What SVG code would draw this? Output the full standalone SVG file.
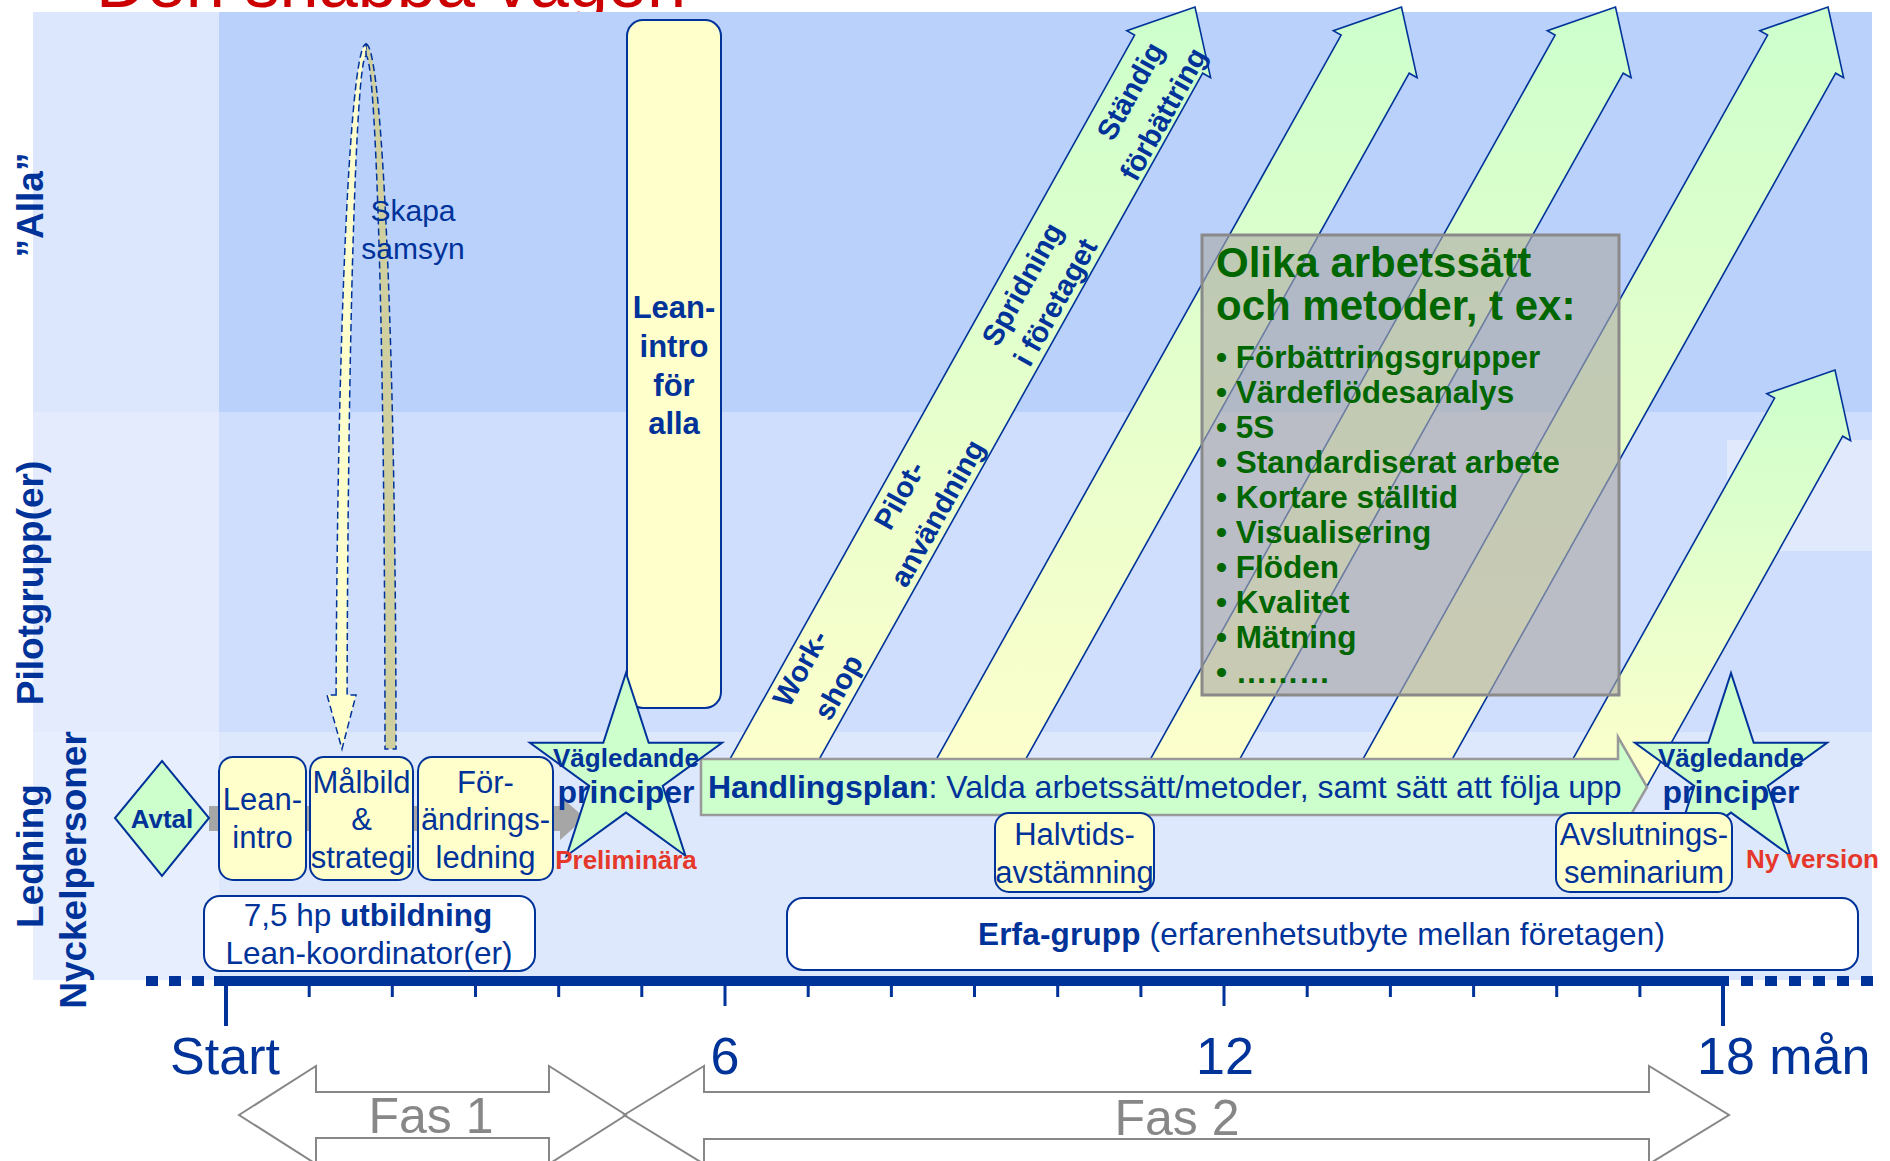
<svg xmlns="http://www.w3.org/2000/svg" width="1890" height="1161" viewBox="0 0 1890 1161">
<defs>
<linearGradient id="ag" x1="0" y1="1" x2="0" y2="0"><stop offset="0" stop-color="#ffffcc"/><stop offset="1" stop-color="#ccffcc"/></linearGradient>
</defs>
<style>
text{font-family:"Liberation Sans",Arial,Helvetica,sans-serif}
.b{font-weight:bold}
.bl{fill:#003399}
.m{text-anchor:middle}
.ybox{fill:#ffffcc;stroke:#003399;stroke-width:2}
.wbox{fill:#ffffff;stroke:#003399;stroke-width:2}
.arr{fill:url(#ag);stroke:#003399;stroke-width:1.6}
.star{fill:#ccffcc;stroke:#003399;stroke-width:2}
.gr{fill:#006600;font-weight:bold}
.red{fill:#e5382b;font-weight:bold;font-size:26px}
.tick{stroke:#003399;stroke-width:3}
.fas{fill:none;stroke:#878787;stroke-width:2}
.fast{fill:#878787;font-size:50px;text-anchor:middle}
.ax{fill:#003399;font-size:52px}
</style>
<rect width="1890" height="1161" fill="#ffffff"/>
<text x="96" y="7" font-size="70" fill="#cc0000" textLength="590" lengthAdjust="spacingAndGlyphs">Den snabba vägen</text>
<g id="background">
<rect x="33" y="12" width="1839" height="400" fill="#bad1fc"/>
<rect x="33" y="412" width="1839" height="320" fill="#cfdefc"/>
<rect x="33" y="732" width="1839" height="248" fill="#dee8fd"/>
<rect x="33" y="12" width="186" height="400" fill="#dce7fd"/>
<rect x="33" y="412" width="186" height="320" fill="#e3ebfd"/>
<rect x="33" y="732" width="186" height="248" fill="#e7eefd"/>
<rect x="1727" y="440" width="145" height="111" fill="#e1eafd"/>
</g>
<g id="row-labels" class="bl b m" font-size="37">
<text transform="translate(43,205) rotate(-90)">”Alla”</text>
<text transform="translate(43,583) rotate(-90)">Pilotgrupp(er)</text>
<text transform="translate(43,856) rotate(-90)">Ledning</text>
<text transform="translate(86,870) rotate(-90)">Nyckelpersoner</text>
</g>
<g id="lean-intro-alla">
<rect class="ybox" x="627" y="20" width="94" height="688" rx="16"/>
<text class="bl b m" font-size="31"><tspan x="674" y="318">Lean-</tspan><tspan x="674" y="357">intro</tspan><tspan x="674" y="396">för</tspan><tspan x="674" y="434">alla</tspan></text>
</g>
<g id="skapa-samsyn">
<path d="M366,44 A30,706 0 0 1 396,749 L385,749 A19,694 0 0 0 366,56 Z" fill="#d0cfa0" stroke="#003399" stroke-width="1.5" stroke-dasharray="7 4"/>
<path d="M336.1,695 A30,706 0 0 1 366,44 L366,56 A19,694 0 0 0 347.1,695 L356,695 L342,749 L327,695 Z" fill="#ffffcc" stroke="#003399" stroke-width="1.5" stroke-dasharray="7 4"/>
<text class="bl m" font-size="30"><tspan x="413" y="221">Skapa</tspan><tspan x="413" y="259">samsyn</tspan></text>
</g>
<g id="improvement-arrows">
<polygon class="arr" points="707.1,800 1134.6,35.1 1126.8,30.7 1195,7 1210.6,77.6 1202.7,73.2 796.4,800"/>
<polygon class="arr" points="913.6,800 1341.1,35.1 1333.3,30.7 1401.5,7 1417.1,77.6 1409.2,73.2 1002.9,800"/>
<polygon class="arr" points="1127.6,800 1555.1,35.1 1547.3,30.7 1615.5,7 1631.1,77.6 1623.2,73.2 1216.9,800"/>
<polygon class="arr" points="1340.1,800 1767.6,35.1 1759.8,30.7 1828,7 1843.6,77.6 1835.7,73.2 1429.4,800"/>
<polygon class="arr" points="1550,800 1774.6,398.1 1766.8,393.7 1835,370 1850.6,440.6 1842.7,436.2 1639.3,800"/>
<g class="bl b m" font-size="29">
<text transform="translate(809,673) rotate(-60.8)">Work-</text>
<text transform="translate(847,692) rotate(-60.8)">shop</text>
<text transform="translate(908,500) rotate(-60.8)">Pilot-</text>
<text transform="translate(946,518) rotate(-60.8)">användning</text>
<text transform="translate(1031,289) rotate(-60.8)">Spridning</text>
<text transform="translate(1064,307) rotate(-60.8)">i företaget</text>
<text transform="translate(1139,96) rotate(-60.8)">Ständig</text>
<text transform="translate(1172,119) rotate(-60.8)">förbättring</text>
</g>
</g>
<g id="methods-box">
<rect x="1202" y="235" width="417" height="460" fill="#ada9a5" fill-opacity="0.62" stroke="#8a8a8a" stroke-width="3"/>
<text class="gr" font-size="42"><tspan x="1216" y="277">Olika arbetssätt</tspan><tspan x="1216" y="320">och metoder, t ex:</tspan></text>
<text class="gr" font-size="31.5">
<tspan x="1216" y="368">• Förbättringsgrupper</tspan>
<tspan x="1216" y="403">• Värdeflödesanalys</tspan>
<tspan x="1216" y="438">• 5S</tspan>
<tspan x="1216" y="473">• Standardiserat arbete</tspan>
<tspan x="1216" y="508">• Kortare ställtid</tspan>
<tspan x="1216" y="543">• Visualisering</tspan>
<tspan x="1216" y="578">• Flöden</tspan>
<tspan x="1216" y="613">• Kvalitet</tspan>
<tspan x="1216" y="648">• Mätning</tspan>
<tspan x="1216" y="683">• ………</tspan>
</text>
</g>
<g id="handlingsplan">
<path d="M701,759 L1618,759 L1618,737 L1647,787 L1618,837 L1618,815 L701,815 Z" fill="#ccffcc" stroke="#999999" stroke-width="2.5"/>
<text x="708" y="798" font-size="32" class="bl"><tspan class="b">Handlingsplan</tspan>: Valda arbetssätt/metoder, samt sätt att följa upp</text>
</g>
<g id="connectors">
<path d="M209,806 L560,806 L560,796 L585,818 L560,840 L560,831 L209,831 Z" fill="#a6a6a6"/>
</g>
<g id="avtal">
<polygon class="star" points="162,761 209,818 162,876 115,818"/>
<text x="162" y="828" class="bl b m" font-size="26">Avtal</text>
</g>
<g id="lean-intro">
<rect class="ybox" x="219" y="757" width="87" height="123" rx="14"/>
<text class="bl m" font-size="31"><tspan x="262.5" y="810">Lean-</tspan><tspan x="262.5" y="848">intro</tspan></text>
</g>
<g id="malbild">
<rect class="ybox" x="310" y="757" width="103" height="123" rx="14"/>
<text class="bl m" font-size="31"><tspan x="361.5" y="793">Målbild</tspan><tspan x="361.5" y="830">&amp;</tspan><tspan x="361.5" y="868">strategi</tspan></text>
</g>
<g id="forandringsledning">
<rect class="ybox" x="418" y="757" width="135" height="123" rx="14"/>
<text class="bl m" font-size="31"><tspan x="485.5" y="793">För-</tspan><tspan x="485.5" y="830">ändrings-</tspan><tspan x="485.5" y="868">ledning</tspan></text>
</g>
<g id="principer-preliminara">
<polygon class="star" points="626,673 648.7,742.8 722.1,742.8 662.7,785.9 685.4,855.7 626,812.6 566.6,855.7 589.3,785.9 529.9,742.8 603.3,742.8"/>
<text class="bl b m" font-size="26" x="626" y="767">Vägledande</text>
<text class="bl b m" font-size="32" x="626" y="803">principer</text>
<text class="red m" x="626" y="869">Preliminära</text>
</g>
<g id="principer-ny">
<polygon class="star" points="1731,673 1753.7,742.8 1827.1,742.8 1767.7,785.9 1790.4,855.7 1731,812.6 1671.6,855.7 1694.3,785.9 1634.9,742.8 1708.3,742.8"/>
<text class="bl b m" font-size="26" x="1731" y="767">Vägledande</text>
<text class="bl b m" font-size="32" x="1731" y="803">principer</text>
<text class="red" x="1746" y="868">Ny version</text>
</g>
<g id="halvtid">
<rect class="ybox" x="995" y="813" width="159" height="79" rx="14"/>
<text class="bl m" font-size="31"><tspan x="1074.5" y="845">Halvtids-</tspan><tspan x="1074.5" y="883">avstämning</tspan></text>
</g>
<g id="avslutning">
<rect class="ybox" x="1556" y="813" width="176" height="79" rx="14"/>
<text class="bl m" font-size="31"><tspan x="1644" y="845">Avslutnings-</tspan><tspan x="1644" y="883">seminarium</tspan></text>
</g>
<g id="utbildning">
<rect class="wbox" x="204" y="896" width="331" height="75" rx="16"/>
<text class="bl m" font-size="31.5"><tspan x="368" y="926">7,5 hp <tspan class="b">utbildning</tspan></tspan><tspan x="369" y="964">Lean-koordinator(er)</tspan></text>
</g>
<g id="erfa-grupp">
<rect class="wbox" x="787" y="898" width="1071" height="72" rx="16"/>
<text class="bl" font-size="31.5" x="978" y="945" textLength="687"><tspan class="b">Erfa-grupp</tspan> (erfarenhetsutbyte mellan företagen)</text>
</g>
<g id="axis">
<rect x="214" y="976" width="1515" height="10" fill="#003399"/>
<line x1="146" y1="981" x2="204" y2="981" stroke="#003399" stroke-width="10" stroke-dasharray="12 11"/>
<line x1="1741" y1="981" x2="1878" y2="981" stroke="#003399" stroke-width="10" stroke-dasharray="12 12"/>
<g class="tick">
<line x1="226" y1="986" x2="226" y2="1026" stroke-width="4"/>
<line x1="1723" y1="986" x2="1723" y2="1026" stroke-width="4"/>
<line x1="725" y1="986" x2="725" y2="1006"/>
<line x1="1224" y1="986" x2="1224" y2="1006"/>
<path d="M309.2,986v11M392.3,986v11M475.5,986v11M558.7,986v11M641.8,986v11M808.2,986v11M891.4,986v11M974.5,986v11M1057.7,986v11M1140.9,986v11M1307.2,986v11M1390.4,986v11M1473.6,986v11M1556.7,986v11M1639.9,986v11"/>
</g>
<text class="ax m" x="225" y="1074">Start</text>
<text class="ax m" x="725" y="1074">6</text>
<text class="ax m" x="1225" y="1074">12</text>
<text class="ax" x="1697" y="1074">18 mån</text>
</g>
<g id="fas1">
<path class="fas" d="M239,1115 L316,1066 L316,1092 L549,1092 L549,1066 L626,1115 L549,1164 L549,1138 L316,1138 L316,1164 Z"/>
<text class="fast" x="431" y="1133">Fas 1</text>
</g>
<g id="fas2">
<path class="fas" d="M624,1115 L704,1066 L704,1092 L1649,1092 L1649,1066 L1729,1115 L1649,1164 L1649,1139 L704,1139 L704,1164 Z"/>
<text class="fast" x="1177" y="1135">Fas 2</text>
</g>
</svg>
